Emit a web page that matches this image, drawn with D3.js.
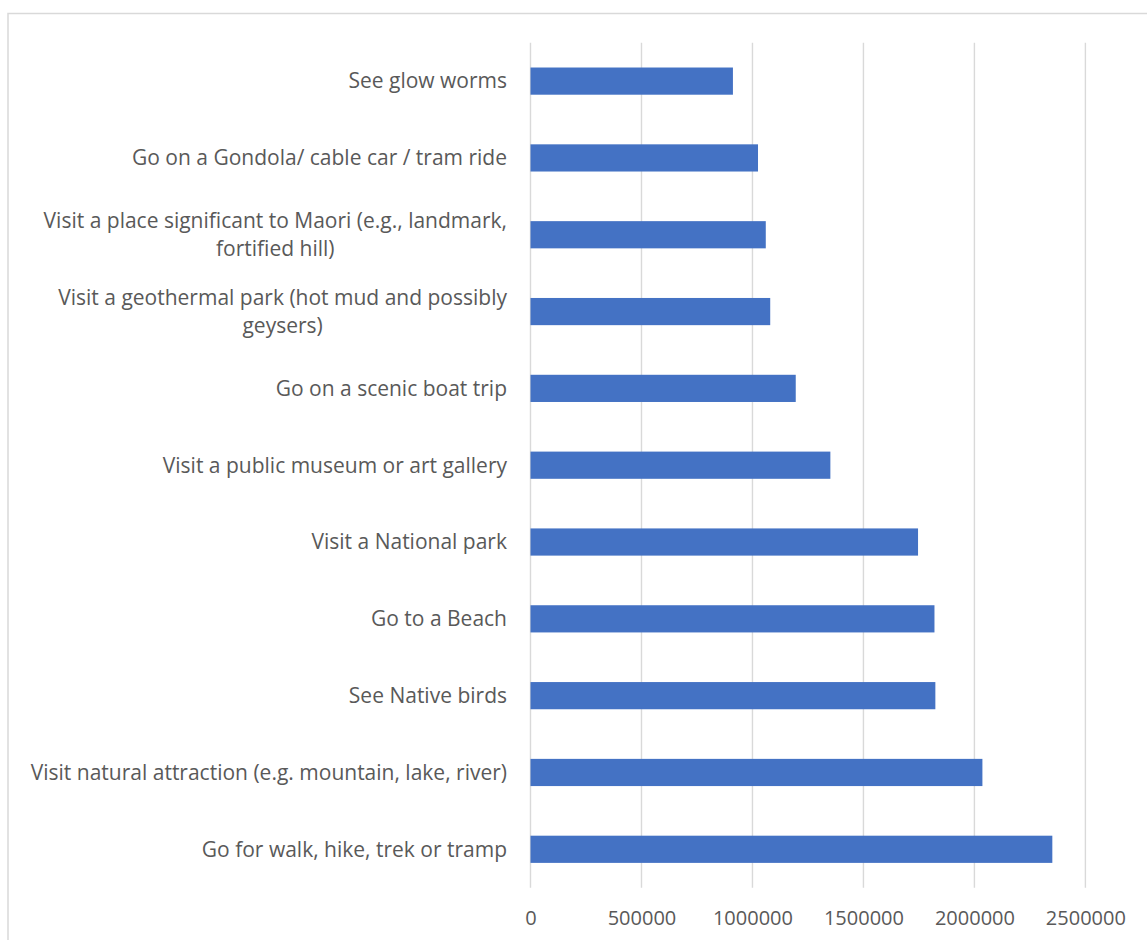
<!DOCTYPE html>
<html>
<head>
<meta charset="utf-8">
<script src="https://cdn.jsdelivr.net/npm/d3@7/dist/d3.min.js"></script>
<style>
  html, body { margin: 0; padding: 0; background: #ffffff; }
  svg { display: block; }
  text { font-family: "Open Sans", "Noto Sans", sans-serif; fill: #595959; }
</style>
</head>
<body>
<svg id="chart" width="1147" height="940"></svg>
<script>
// Activities (top to bottom) and number of visitors for each
const categories = [
  ["See glow worms"],
  ["Go on a Gondola/ cable car / tram ride"],
  ["Visit a place significant to Maori (e.g., landmark,", "fortified hill)"],
  ["Visit a geothermal park (hot mud and possibly", "geysers)"],
  ["Go on a scenic boat trip"],
  ["Visit a public museum or art gallery"],
  ["Visit a National park"],
  ["Go to a Beach"],
  ["See Native birds"],
  ["Visit natural attraction (e.g. mountain, lake, river)"],
  ["Go for walk, hike, trek or tramp"]
];
const values = [912000, 1025000, 1060000, 1080000, 1195000, 1351000, 1746000, 1820000, 1824000, 2036000, 2351000];
const tickValues = [0, 500000, 1000000, 1500000, 2000000, 2500000];

const svg = d3.select("#chart");
const W = 1147, H = 940;
const FONT = "'Open Sans', 'Noto Sans', sans-serif";

// chart frame (extends past the right and bottom edges)
svg.append("rect")
  .attr("x", 8).attr("y", 13.5)
  .attr("width", W + 20).attr("height", H + 20)
  .attr("fill", "#ffffff")
  .attr("stroke", "#d9d9d9").attr("stroke-width", 1.5);

const plotTop = 42.7, plotBottom = 887.7;
const x = d3.scaleLinear().domain([0, 2500000]).range([530.5, 1085.4]);
const y = d3.scaleBand()
  .domain(d3.range(categories.length))
  .range([plotTop, plotBottom])
  .paddingInner(0.646)
  .paddingOuter(0.323);

// vertical gridlines
svg.append("g")
  .selectAll("line")
  .data(tickValues)
  .join("line")
  .attr("x1", d => x(d)).attr("x2", d => x(d))
  .attr("y1", plotTop).attr("y2", plotBottom)
  .attr("stroke", "#d9d9d9").attr("stroke-width", 1.4);

// bars
svg.append("g")
  .selectAll("rect")
  .data(values)
  .join("rect")
  .attr("x", x(0))
  .attr("y", (d, i) => y(i))
  .attr("width", d => x(d) - x(0))
  .attr("height", y.bandwidth())
  .attr("fill", "#4472c4");

// x axis tick labels
const xAxis = d3.axisBottom(x).tickValues(tickValues).tickFormat(d3.format("d")).tickSize(0).tickPadding(0);
const gx = svg.append("g").attr("transform", `translate(0, ${plotBottom})`).call(xAxis);
gx.select(".domain").remove();
gx.selectAll("text")
  .attr("y", 0).attr("dy", 0)
  .attr("transform", "translate(0, 37)")
  .style("font-family", FONT)
  .style("font-size", "20px")
  .attr("fill", "#595959");

// category labels: right aligned block, lines centred within it
const labelRight = 507;
const lineH = 28;
const gl = svg.append("g");
categories.forEach((lines, i) => {
  const cy = y(i) + y.bandwidth() / 2;
  const t = gl.append("text")
    .attr("font-size", "21px")
    .attr("text-anchor", "middle");
  lines.forEach((ln, k) => {
    t.append("tspan")
      .attr("y", cy + (k - (lines.length - 1) / 2) * lineH)
      .attr("dy", "0.35em")
      .text(ln);
  });
  let maxW = 0;
  t.selectAll("tspan").each(function () {
    maxW = Math.max(maxW, this.getComputedTextLength());
  });
  t.selectAll("tspan").attr("x", labelRight - maxW / 2);
});
</script>
</body>
</html>
